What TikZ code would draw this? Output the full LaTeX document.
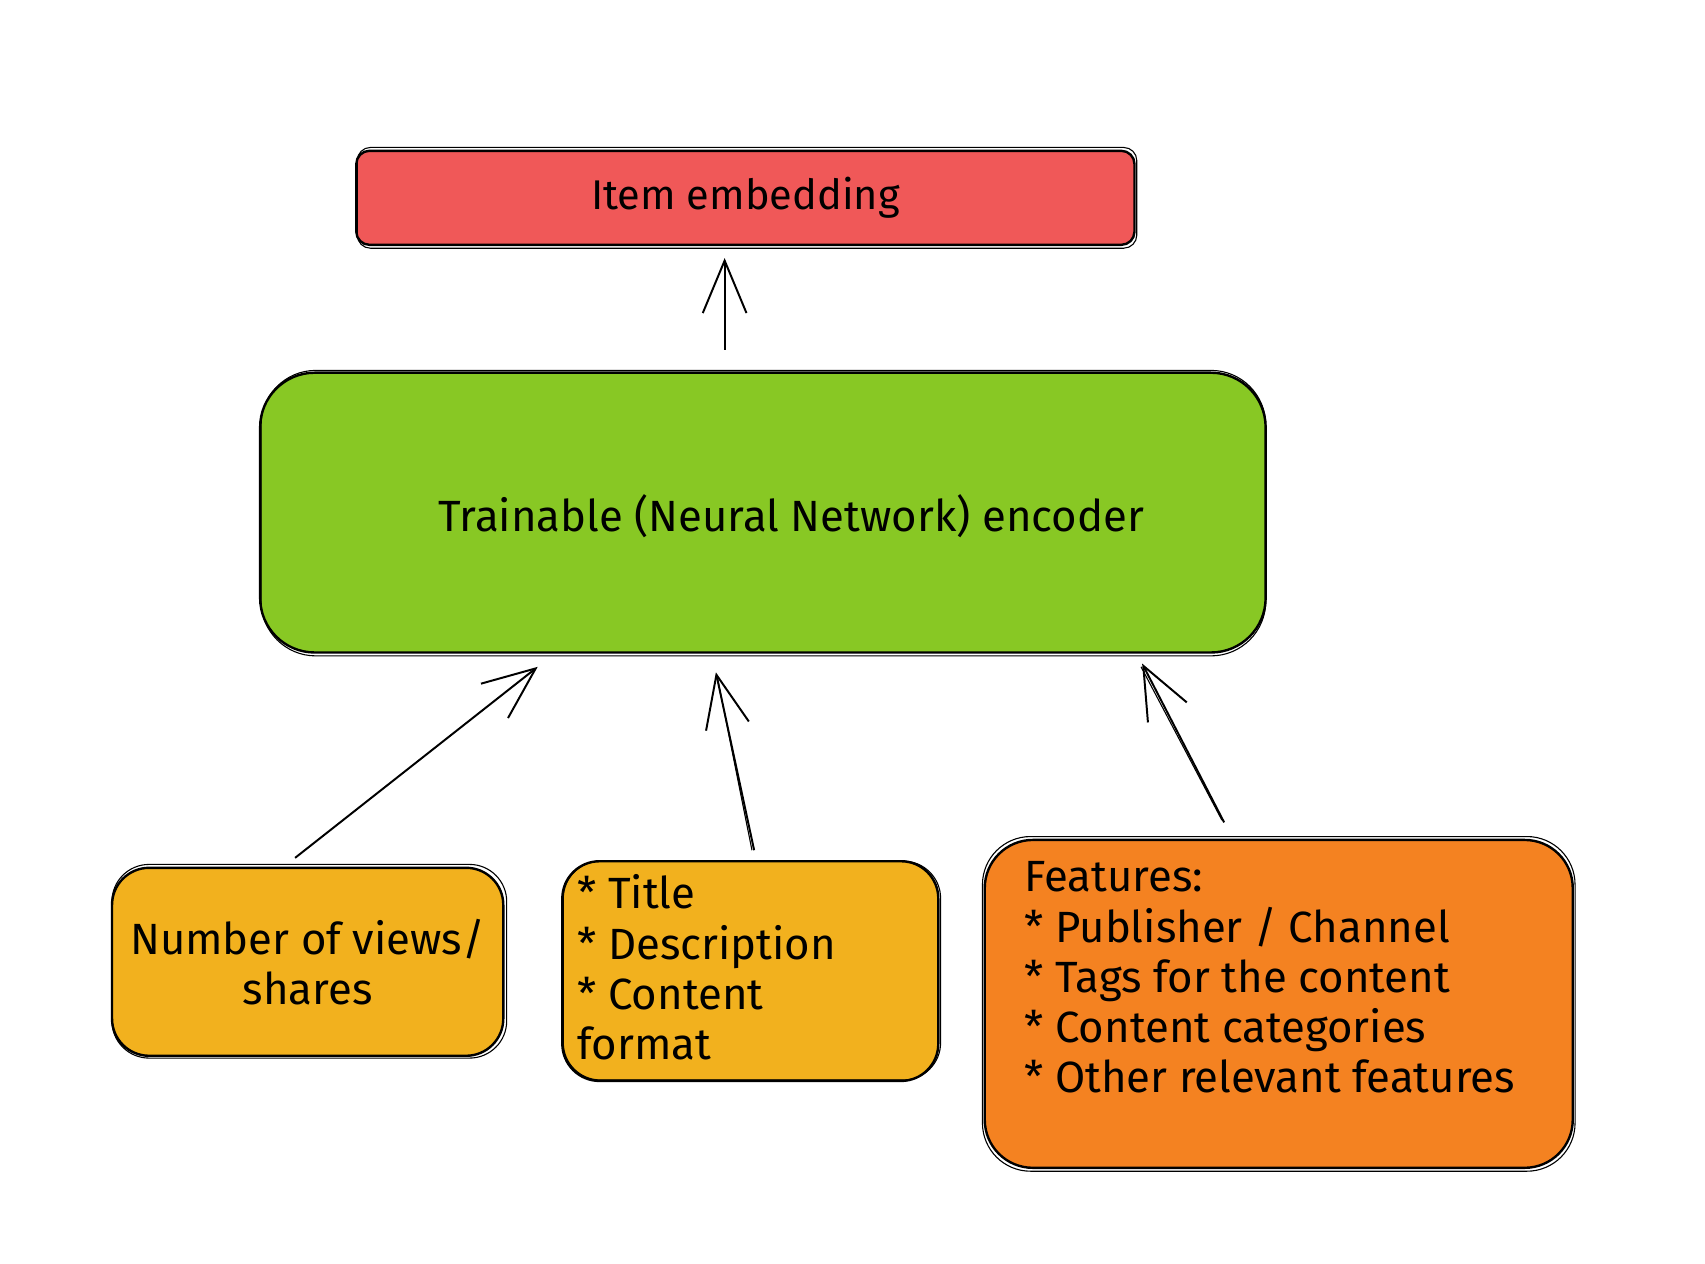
\documentclass[tikz,border=0pt]{standalone}
\usepackage{fontspec}
\setmainfont{Fira Sans}
\usetikzlibrary{arrows.meta,calc}
\definecolor{cred}{RGB}{240,88,88}
\definecolor{cgreen}{RGB}{136,200,36}
\definecolor{cyellow}{RGB}{242,177,30}
\definecolor{corange}{RGB}{244,130,33}
\begin{document}
\begin{tikzpicture}[x=0.5pt,y=-0.5pt,
 box/.style={draw=black, line width=1.1pt, inner sep=0pt},
 lbl/.style={font=\fontsize{20}{23}\selectfont, inner sep=0pt, align=left},
 arr/.style={draw=black, line width=0.9pt, -{Straight Barb[length=24pt,width=20pt,line width=0.9pt]}},
 sk/.style={draw=black, line width=0.5pt},
]
\useasboundingbox[fill=white] (0,0) rectangle (1560,1156.5);

% boxes
\node[box, fill=cred, rounded corners=6pt, minimum width=356pt, minimum height=43pt, font=\fontsize{19}{23}\selectfont] (emb) at (682,181) {Item embedding};
\node[box, fill=cgreen, rounded corners=25pt, minimum width=460pt, minimum height=128pt] (enc) at (698,469) {};
\node[lbl] (enct) at (724,472) {Trainable (Neural Network) encoder};
\node[box, fill=cyellow, rounded corners=17pt, minimum width=179pt, minimum height=86pt, font=\fontsize{20}{23}\selectfont, align=center] (views) at (281.5,880) {Number of views/\\shares};
\node[box, fill=cyellow, rounded corners=17pt, minimum width=172pt, minimum height=100.5pt] (meta) at (686.5,888.5) {};
\node[lbl, anchor=north west] (metat) at (528,800) {* Title\\* Description\\* Content\\format};
\node[box, fill=corange, rounded corners=22pt, minimum width=269pt, minimum height=150pt] (feat) at (1170,918.5) {};
\node[lbl, anchor=north west] (featt) at (937,788) {Features:\\* Publisher / Channel\\* Tags for the content\\* Content categories\\* Other relevant features};

% sketchy second outlines
\draw[sk, rounded corners=6pt] ($(emb.north west)+(2,-2)$) rectangle ($(emb.south east)+(1,2)$);
\draw[sk, rounded corners=25pt] ($(enc.north west)+(2,-1)$) rectangle ($(enc.south east)+(-1,2)$);
\draw[sk, rounded corners=17pt] ($(views.north west)+(1,-2)$) rectangle ($(views.south east)+(2,1)$);
\draw[sk, rounded corners=17pt] ($(meta.north west)+(2,1)$) rectangle ($(meta.south east)+(1,-2)$);
\draw[sk, rounded corners=22pt] ($(feat.north west)+(-1,-2)$) rectangle ($(feat.south east)+(1,2)$);

% arrows
\draw[arr] ($(enc.north)+(-35,-20)$) -- ($(emb.south)+(-19,11)$);
\draw[arr] ($(views.north)+(-11.5,-8)$) -- ($(enc.south)+(-206,12)$);
\draw[arr] ($(meta.north)+(3.5,-9)$) -- ($(enc.south)+(-43,17)$);
\draw[arr] ($(feat.north)+(-50,-15)$) -- ($(enc.south)+(347,9)$);
\draw[sk] ($(meta.north)+(1.5,-9)$) -- ($(enc.south)+(-42,20)$);
\draw[sk] ($(feat.north)+(-52,-17)$) -- ($(enc.south)+(346,12)$);
\end{tikzpicture}
\end{document}
